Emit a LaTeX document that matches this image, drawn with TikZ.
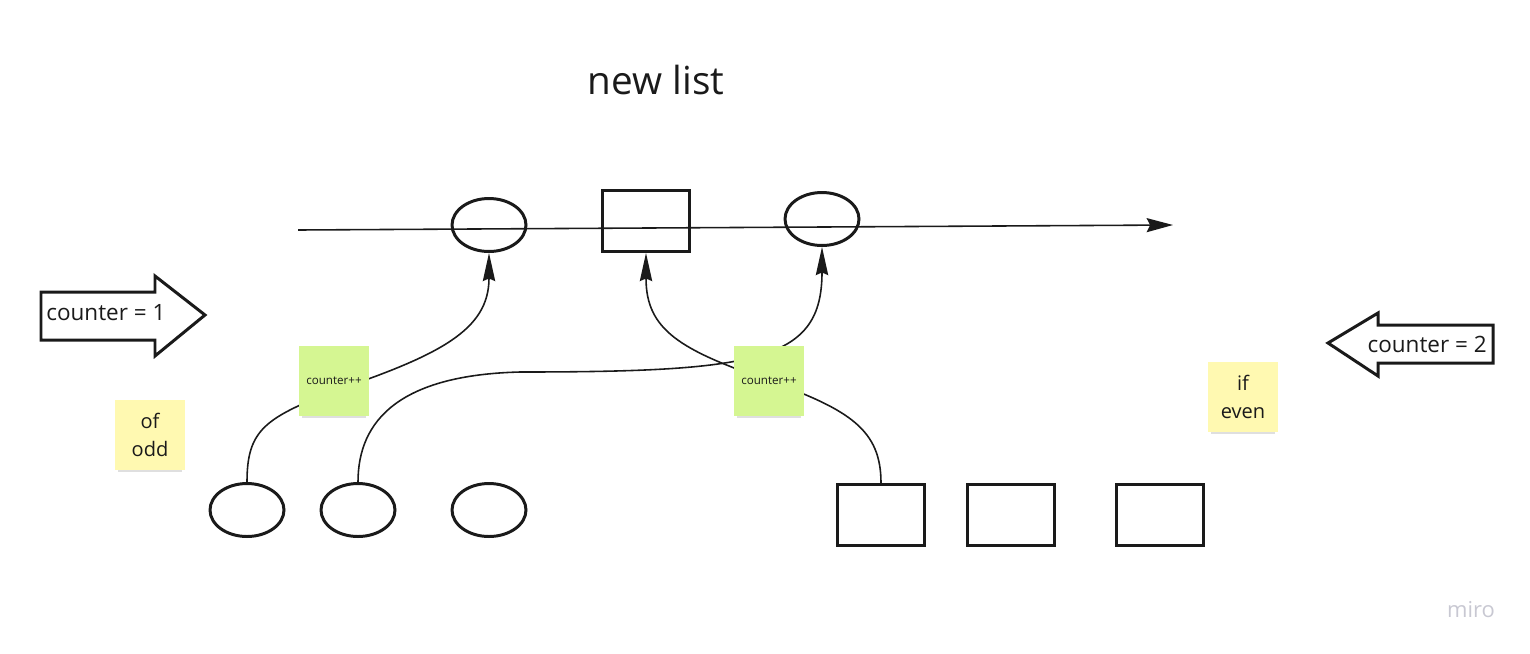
\documentclass[tikz,border=0pt]{standalone}
\usepackage{fontspec}
\setmainfont{Open Sans}
\usetikzlibrary{arrows.meta,shapes.geometric,shadows}
\definecolor{ink}{RGB}{26,26,26}
\definecolor{mirogreen}{RGB}{213,246,146}
\definecolor{miroyellow}{RGB}{255,249,177}
\definecolor{logogray}{RGB}{200,200,210}
\tikzset{
    oval/.style ={
        shape=ellipse,
        draw=ink,
        line width=1.7pt,
        inner sep=0pt,
        minimum width=1.48cm,
        minimum height=1.06cm
    },
    cell/.style ={
        shape=rectangle,
        draw=ink,
        line width=1.7pt,
        inner sep=0pt,
        minimum width=1.74cm,
        minimum height=1.22cm
    },
    memo/.style ={
        shape=rectangle,
        fill=miroyellow,
        inner sep=0pt,
        minimum size=1.4cm,
        align=center,
        text=ink,
        font=\fontsize{11.4}{16.4}\selectfont,
        drop shadow={shadow xshift=0pt,shadow yshift=-3pt,shadow scale=0.92,opacity=0.25}
    },
    incr/.style ={
        memo,
        fill=mirogreen,
        font=\fontsize{6.6}{8}\selectfont
    },
    wire/.style ={
        draw=ink,
        line width=0.9pt,
        -{Stealth[length=16pt,width=7pt,inset=1.5pt]}
    },
    bigarrow/.style ={
        draw=ink,
        fill=white,
        line width=1.7pt,
        line join=miter
    },
    lbl/.style ={
        inner sep=0pt,
        text=ink,
        font=\fontsize{12.8}{15}\selectfont
    }
}
\begin{document}
\begin{tikzpicture}[x=0.02cm,y=-0.02cm]
        \useasboundingbox (0,0) rectangle (1530,653);
        \node[inner sep=0pt,text=ink,font=\fontsize{22}{26}\selectfont] (head) at(656,80) {new list};
        \coordinate (start) at(298,230);
        \coordinate (stop) at(1173,225);
        \draw[draw=ink,line width=0.9pt,-{Stealth[length=15pt,width=8pt,inset=2pt]}] (start) -- (stop);
        \node[oval] (a1) at(489,225) {};
        \node[cell] (r2) at(646,221) {};
        \node[oval] (a3) at(822,219) {};
        \node[oval] (e1) at(247,510) {};
        \node[oval] (e2) at(358,510) {};
        \node[oval] (e3) at(489,510) {};
        \node[cell] (b1) at(881,515) {};
        \node[cell] (b2) at(1011,515) {};
        \node[cell] (b3) at(1160,515) {};
        \draw[wire] (e1.north) .. controls (247,430) and (265,418) .. (334,391)
            .. controls (440,355) and (489,330) .. (a1.south);
        \draw[wire] (e2.north) .. controls (358,420) and (400,375) .. (520,372)
            .. controls (760,372) and (822,360) .. (a3.south);
        \draw[wire] (b1.north) .. controls (881,430) and (850,410) .. (770,381)
            .. controls (680,350) and (646,330) .. (r2.south);
        \node[incr] (inc1) at(334,381) {counter++};
        \node[incr] (inc2) at(769,381) {counter++};
        \node[memo] (odd) at(150,435) {of\\odd};
        \node[memo] (even) at(1243,397) {if\\even};
        \draw[bigarrow] (41,292) -- (155,292) -- (155,276) -- (205,315) -- (155,356) -- (155,340) -- (41,340) -- cycle;
        \node[lbl,anchor=west] (one) at(46,313) {counter = 1};
        \draw[bigarrow] (1493,325) -- (1378,325) -- (1378,313) -- (1328,343) -- (1378,376) -- (1378,363) -- (1493,363) -- cycle;
        \node[lbl,anchor=east] (two) at(1487,344) {counter = 2};
        \node[inner sep=0pt,text=logogray,font=\fontsize{12.5}{15}\selectfont] (brand) at(1471,610) {miro};
    \end{tikzpicture}
\end{document}
